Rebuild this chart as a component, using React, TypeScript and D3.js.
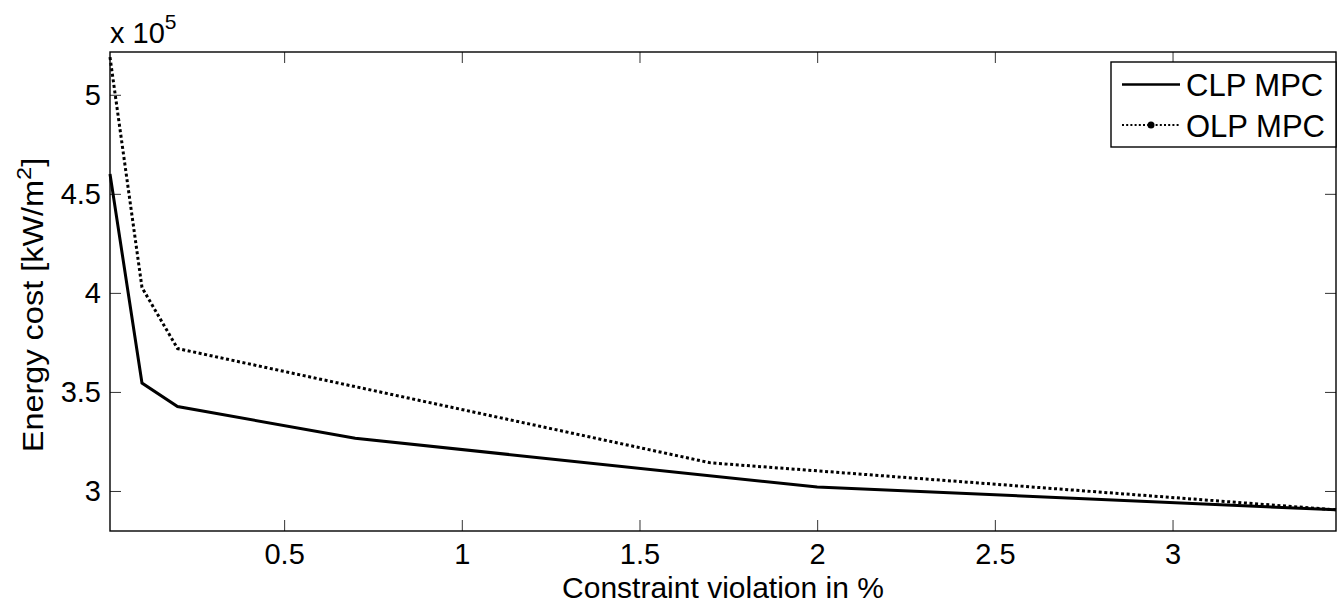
import React, { useEffect, useRef } from 'react';
import * as d3 from 'd3';

// values (y in units of 1e5)
const clpX = [0.01, 0.1, 0.2, 0.7, 2, 3.46];
const clpY = [4.60, 3.545, 3.426, 3.266, 3.02, 2.905];
const olpX = [0.01, 0.1, 0.2, 1.7, 3.46];
const olpY = [5.19, 4.027, 3.719, 3.142, 2.905];
const xTicks = [0.5, 1, 1.5, 2, 2.5, 3];
const yTicks = [3, 3.5, 4, 4.5, 5];
const seriesNames = ['CLP MPC', 'OLP MPC'];

const W = 1337;
const H = 605;
const FONT = '"Liberation Sans", Arial, Helvetica, sans-serif';

const App = () => {
    const ref = useRef<SVGSVGElement | null>(null);

    useEffect(() => {
        const svg = d3.select(ref.current);
        svg.selectAll('*').remove();

        const left = 110, right = 1336, top = 52, bottom = 531;
        const x = d3.scaleLinear().domain([0.01, 3.46]).range([left, right]);
        const y = d3.scaleLinear().domain([2.798, 5.216]).range([bottom, top]);

        svg.append('rect').attr('width', W).attr('height', H).attr('fill', '#fff');

        // axes (matlab box with inward ticks)
        const tick = 11;
        const gx = svg.append('g').attr('transform', `translate(0,${bottom})`)
            .call(d3.axisBottom(x).tickValues(xTicks).tickSizeInner(-tick).tickSizeOuter(0).tickPadding(12).tickFormat(d => String(d)));
        const gy = svg.append('g').attr('transform', `translate(${left},0)`)
            .call(d3.axisLeft(y).tickValues(yTicks).tickSizeInner(-tick).tickSizeOuter(0).tickPadding(9).tickFormat(d => String(d)));
        const gx2 = svg.append('g').attr('transform', `translate(0,${top})`)
            .call(d3.axisTop(x).tickValues(xTicks).tickSizeInner(-tick).tickSizeOuter(0).tickFormat(() => ''));
        const gy2 = svg.append('g').attr('transform', `translate(${right},0)`)
            .call(d3.axisRight(y).tickValues(yTicks).tickSizeInner(-tick).tickSizeOuter(0).tickFormat(() => ''));
        [gx, gy, gx2, gy2].forEach(g => {
            g.select('.domain').remove();
            g.selectAll('line').attr('stroke', '#333').attr('stroke-width', 1);
            g.selectAll('text').attr('font-family', FONT).attr('font-size', 29).attr('fill', '#000');
        });

        svg.append('rect')
            .attr('x', left).attr('y', top)
            .attr('width', right - left).attr('height', bottom - top)
            .attr('fill', 'none').attr('stroke', '#000').attr('stroke-width', 1.4);

        // lines
        const line = d3.line<[number, number]>().x(d => x(d[0])).y(d => y(d[1]));
        const clp: [number, number][] = clpX.map((v, i) => [v, clpY[i]]);
        const olp: [number, number][] = olpX.map((v, i) => [v, olpY[i]]);

        const plot = svg.append('g');
        plot.append('path').datum(olp).attr('d', line)
            .attr('fill', 'none').attr('stroke', '#000').attr('stroke-width', 3)
            .attr('stroke-dasharray', '3,2.6');
        plot.append('path').datum(clp).attr('d', line)
            .attr('fill', 'none').attr('stroke', '#000').attr('stroke-width', 3);

        // labels
        svg.append('text').attr('x', (left + right) / 2).attr('y', 598)
            .attr('text-anchor', 'middle').attr('font-family', FONT).attr('font-size', 30)
            .text('Constraint violation in %');

        const yl = svg.append('text')
            .attr('transform', 'translate(43,305) rotate(-90) scale(1.12,1)')
            .attr('text-anchor', 'middle').attr('font-family', FONT).attr('font-size', 29);
        yl.append('tspan').text('Energy cost [kW/m');
        yl.append('tspan').attr('font-size', 21).attr('dy', -12).text('2');
        yl.append('tspan').attr('dy', 12).text(']');

        const exp = svg.append('text').attr('x', left).attr('y', 43)
            .attr('font-family', FONT).attr('font-size', 29);
        exp.append('tspan').text('x 10');
        exp.append('tspan').attr('font-size', 21).attr('dy', -14).text('5');

        // legend
        const lg = svg.append('g');
        lg.append('rect').attr('x', 1111).attr('y', 62).attr('width', right - 1111).attr('height', 85)
            .attr('fill', '#fff').attr('stroke', '#000').attr('stroke-width', 1.4);
        const rows = [84.5, 125];
        const textY = [95.5, 136.5];
        lg.append('line').attr('x1', 1122).attr('x2', 1180).attr('y1', rows[0]).attr('y2', rows[0])
            .attr('stroke', '#000').attr('stroke-width', 2.6);
        lg.append('line').attr('x1', 1122).attr('x2', 1180).attr('y1', rows[1]).attr('y2', rows[1])
            .attr('stroke', '#000').attr('stroke-width', 2).attr('stroke-dasharray', '2,2.2');
        lg.append('circle').attr('cx', 1151).attr('cy', rows[1]).attr('r', 3.5).attr('fill', '#000');
        seriesNames.forEach((n, i) => {
            lg.append('text').attr('x', 1186).attr('y', textY[i])
                .attr('font-family', FONT).attr('font-size', 31).text(n);
        });
    }, []);

    return (
        <svg ref={ref} width={W} height={H}
            style={{ position: 'absolute', left: 0, top: 0, display: 'block' }} />
    );
};

export default App;
